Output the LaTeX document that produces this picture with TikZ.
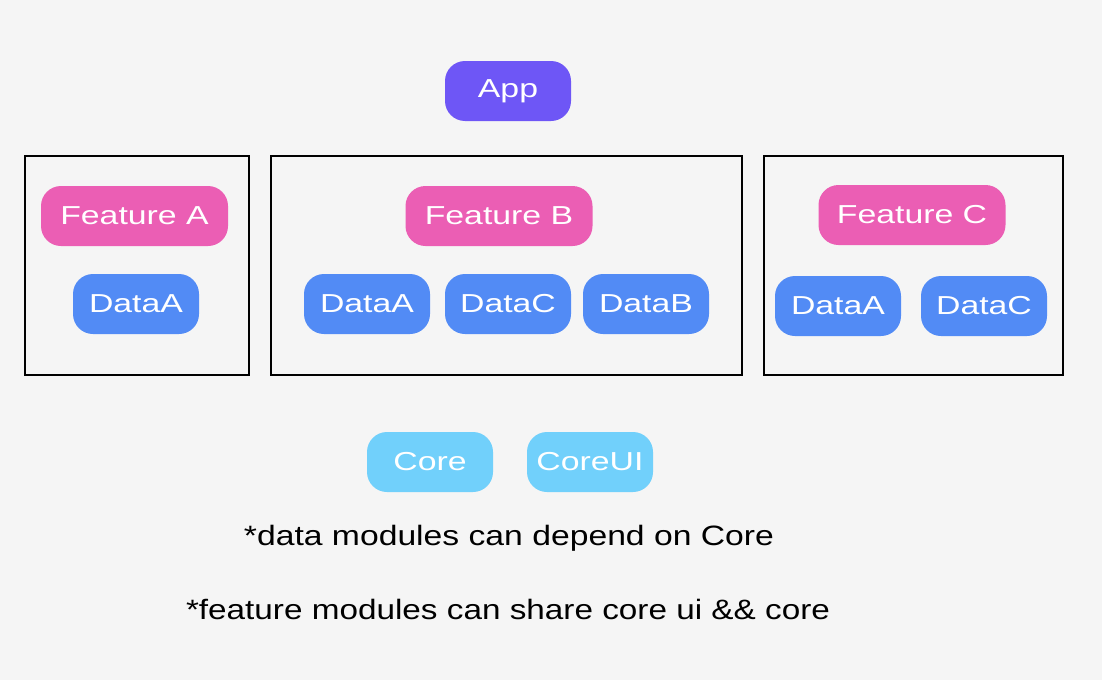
\documentclass[tikz,border=0pt]{standalone}
\usepackage{graphicx}
\usepackage{fontspec}
\setmainfont{Liberation Sans}
\definecolor{bg}{HTML}{F5F5F5}
\definecolor{appc}{HTML}{6E56F6}
\definecolor{featc}{HTML}{EB5EB4}
\definecolor{datac}{HTML}{528BF5}
\definecolor{corec}{HTML}{71D0FB}
\newcommand\widetxt[1]{\scalebox{1.3}[1]{#1}}
\begin{document}
\begin{tikzpicture}[x=1pt,y=-1pt,
  pill/.style={rounded corners=20pt,inner sep=0pt,text=white,
    font=\fontsize{26}{30}\selectfont,minimum height=60pt},
  small/.style={pill,minimum width=126pt},
  wide/.style={pill,minimum width=187pt},
  appbox/.style={small,fill=appc},
  featbox/.style={wide,fill=featc},
  databox/.style={small,fill=datac},
  corebox/.style={small,fill=corec},
  group/.style={draw=black,line width=2pt},
  note/.style={font=\fontsize{28}{32}\selectfont,text=black,inner sep=0pt}]
\fill[bg] (0,0) rectangle (1102,680);
\useasboundingbox (0,0) rectangle (1102,680);
% groups
\draw[group] (25,156) rectangle (249,375);
\draw[group] (271,156) rectangle (742,375);
\draw[group] (764,156) rectangle (1063,375);
% app
\node[appbox] (app) at (508,91) {\widetxt{App}};
% feature A
\node[featbox] (fa) at (134.5,216) {\widetxt{Feature A}};
\node[databox] (aa) at (136,304) {\widetxt{DataA}};
% feature B
\node[featbox] (fb) at (499,216) {\widetxt{Feature B}};
\node[databox] (ba) at (367,304) {\widetxt{DataA}};
\node[databox] (bc) at (508,304) {\widetxt{DataC}};
\node[databox] (bb) at (646,304) {\widetxt{DataB}};
% feature C
\node[featbox] (fc) at (912,215) {\widetxt{Feature C}};
\node[databox] (ca) at (838,306) {\widetxt{DataA}};
\node[databox] (cc) at (984,306) {\widetxt{DataC}};
% core
\node[corebox] (core) at (430,462) {\widetxt{Core}};
\node[corebox] (coreui) at (590,462) {\widetxt{CoreUI}};
% notes
\node[note] (n1) at (509,538) {\resizebox{530pt}{\height}{*data modules can depend on Core}};
\node[note] (n2) at (508,609) {\resizebox{644pt}{\height}{*feature modules can share core ui \&\& core}};
\end{tikzpicture}
\end{document}
